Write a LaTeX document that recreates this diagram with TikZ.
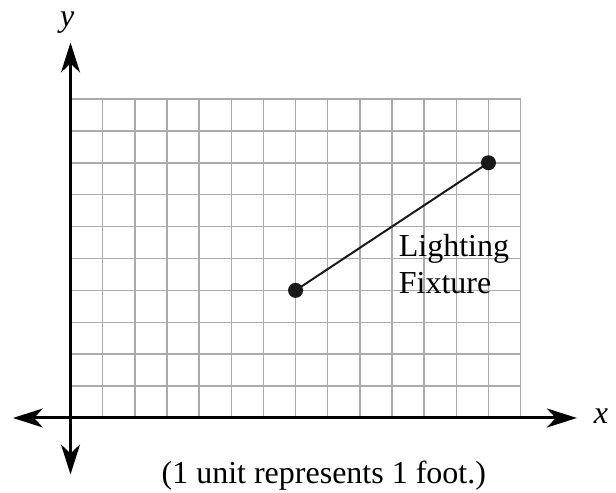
\documentclass[tikz,border=0pt]{standalone}
\usepackage{fontspec}
\setmainfont{Liberation Serif}
\usetikzlibrary{arrows.meta}
\begin{document}
\begin{tikzpicture}[x=16.075pt,y=15.95pt,
  gridline/.style={draw=black!33,line width=0.75pt},
  axisline/.style={line width=1.5pt,{Stealth[length=15pt,width=9.5pt,inset=4.5pt]}-{Stealth[length=15pt,width=9.5pt,inset=4.5pt]}},
  ptdot/.style={circle,fill=black!90,inner sep=0pt,minimum size=7.5pt},
  lbl/.style={font=\fontsize{16}{19}\selectfont,inner sep=0pt}]
\useasboundingbox (-2.193,-2.351) rectangle (16.967,13.103);
% grid
\foreach \i in {1,...,14} \draw[gridline] (\i,0) -- (\i,10);
\foreach \j in {1,...,10} \draw[gridline] (0,\j) -- (14,\j);
% axes
\coordinate (xl) at (-1.79,0);
\coordinate (xr) at (15.75,0);
\coordinate (yb) at (0,-1.77);
\coordinate (yt) at (0,11.77);
\draw[axisline] (xl) -- (xr);
\draw[axisline] (yb) -- (yt);
\node[lbl,anchor=center] (xlab) at (16.5,0.05) {\textit{x}};
\node[lbl,anchor=center] (ylab) at (-0.1,12.4) {\textit{y}};
% segment
\node[ptdot] (p1) at (7,4) {};
\node[ptdot] (p2) at (13,8) {};
\draw[line width=1pt,black!90] (p1.center) -- (p2.center);
\node[lbl,anchor=base west] (l1) at (10.2,5.05) {Lighting};
\node[lbl,anchor=base west] (l2) at (10.2,3.9) {Fixture};
\node[lbl,anchor=base] (cap) at (7.88,-2.04) {(1 unit represents 1 foot.)};
\end{tikzpicture}
\end{document}
